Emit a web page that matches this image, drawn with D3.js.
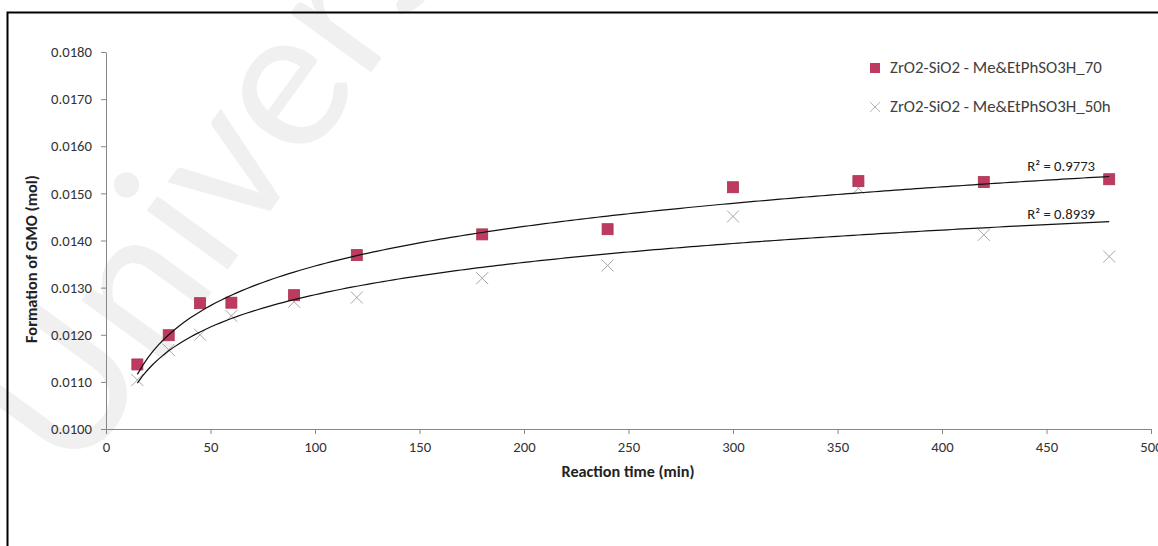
<!DOCTYPE html>
<html>
<head>
<meta charset="utf-8">
<script src="https://cdn.jsdelivr.net/npm/d3@7"></script>
<style>
  body { margin: 0; background: #fff; }
  svg text { font-family: Carlito, Lato, "Open Sans", sans-serif; }
</style>
</head>
<body>
<script>
// values
const times = [15, 30, 45, 60, 90, 120, 180, 240, 300, 360, 420, 480];
const gmo70 = [0.01137, 0.01199, 0.01267, 0.01268, 0.01284, 0.01369, 0.01413, 0.01424, 0.01513, 0.01526, 0.01524, 0.01530];
const gmo50h = [0.01104, 0.01168, 0.01200, 0.01240, 0.01270, 0.01279, 0.01320, 0.01347, 0.01451, 0.01511, 0.01412, 0.01366];
const seriesNames = ["ZrO2-SiO2 - Me&EtPhSO3H_70", "ZrO2-SiO2 - Me&EtPhSO3H_50h"];
const r2Labels = ["R\u00b2 = 0.9773", "R\u00b2 = 0.8939"];
const yTicks = [0.010, 0.011, 0.012, 0.013, 0.014, 0.015, 0.016, 0.017, 0.018];
const xTicks = [0, 50, 100, 150, 200, 250, 300, 350, 400, 450, 500];

const w = 1158;
const h = 546;

// scale a text's font so it is as wide as in the picture
function fitWidth(sel, target) {
    const node = sel.node();
    const size = parseFloat(sel.attr("font-size"));
    const len = node.getComputedTextLength();
    const s = size * target / len;
    sel.attr("font-size", s);
    return s;
}

const svg = d3.select("body")
    .append("svg")
        .attr("width", w)
        .attr("height", h)

// faint watermark behind the chart
svg.append("text")
    .attr("transform", "translate(75,480) rotate(-54)")
    .attr("font-size", 210)
    .attr("fill", "#f0f0f0")
    .text("University")

// outer frame (only left and top show in the crop)
svg.append("rect")
    .attr("x", 7.5)
    .attr("y", 12.5)
    .attr("width", 1300)
    .attr("height", 700)
    .attr("fill", "none")
    .attr("stroke", "#000")
    .attr("stroke-width", 2)

const x = d3.scaleLinear().domain([0, 500]).range([106, 1151]);
const y = d3.scaleLinear().domain([0.010, 0.018]).range([429, 52]);

// logarithmic trend line, least squares on ln(t) like Excel
function logFit(xs, ys) {
    const lx = xs.map(Math.log);
    const mx = d3.mean(lx), my = d3.mean(ys);
    let num = 0, den = 0;
    lx.forEach((v, i) => { num += (v - mx) * (ys[i] - my); den += (v - mx) * (v - mx); });
    const a = num / den;
    const b = my - a * mx;
    return t => a * Math.log(t) + b;
}

const yAxis = svg.append("g")
    .attr("transform", "translate(106,0)")
    .call(d3.axisLeft(y).tickValues(yTicks).tickFormat(d3.format(".4f")).tickSize(5).tickSizeOuter(0))
yAxis.select(".domain").attr("stroke", "#868686")
yAxis.selectAll(".tick line").attr("stroke", "#868686")
yAxis.selectAll(".tick text").attr("font-size", 12).attr("fill", "#333").attr("x", -14)
const tickSize = fitWidth(yAxis.select(".tick:last-of-type text"), 41);
yAxis.selectAll(".tick text").attr("font-size", tickSize)

const xAxis = svg.append("g")
    .attr("transform", "translate(0,429)")
    .call(d3.axisBottom(x).tickValues(xTicks).tickSize(5).tickSizeOuter(0))
xAxis.select(".domain").attr("stroke", "#868686")
xAxis.selectAll(".tick line").attr("stroke", "#868686")
xAxis.selectAll(".tick text").attr("font-size", tickSize).attr("fill", "#333").attr("y", 13)

fitWidth(svg.append("text")
    .attr("x", 628)
    .attr("y", 477)
    .attr("text-anchor", "middle")
    .attr("font-size", 12.5)
    .attr("font-weight", "bold")
    .attr("fill", "#222")
    .text("Reaction time (min)"), 133)

fitWidth(svg.append("text")
    .attr("transform", "translate(37,259) rotate(-90)")
    .attr("text-anchor", "middle")
    .attr("font-size", 12.5)
    .attr("font-weight", "bold")
    .attr("fill", "#222")
    .text("Formation of GMO (mol)"), 168)

// markers
const pts50 = times.map((t, i) => ({t: t, v: gmo50h[i]}));
const pts70 = times.map((t, i) => ({t: t, v: gmo70[i]}));

svg.append("g")
    .selectAll("path")
    .data(pts50)
    .enter()
    .append("path")
        .attr("d", d => {
            const cx = x(d.t), cy = y(d.v), s = 6;
            return `M${cx - s},${cy - s}L${cx + s},${cy + s}M${cx - s},${cy + s}L${cx + s},${cy - s}`;
        })
        .attr("stroke", "#a6a6a6")
        .attr("stroke-width", 1)

svg.append("g")
    .selectAll("rect")
    .data(pts70)
    .enter()
    .append("rect")
        .attr("x", d => x(d.t) - 5.5)
        .attr("y", d => y(d.v) - 5.5)
        .attr("width", 11)
        .attr("height", 11)
        .attr("fill", "#be3a60")
        .attr("stroke", "#a8324f")
        .attr("stroke-width", 0.8)

// trend lines
const fits = [logFit(times, gmo70), logFit(times, gmo50h)];
const tSpan = d3.range(15, 480.5, 2.5);
const line = d3.line().x(d => x(d[0])).y(d => y(d[1]));
fits.forEach((f, i) => {
    svg.append("path")
        .attr("d", line(tSpan.map(t => [t, f(t)])))
        .attr("fill", "none")
        .attr("stroke", "#111")
        .attr("stroke-width", 1.2)
    fitWidth(svg.append("text")
        .attr("x", x(457))
        .attr("y", y(f(457)) - (i === 0 ? 8 : 5))
        .attr("text-anchor", "middle")
        .attr("font-size", 12.5)
        .attr("fill", "#222")
        .text(r2Labels[i]), 68)
});

// legend
const legend = svg.append("g")
legend.append("rect")
    .attr("x", 870)
    .attr("y", 63)
    .attr("width", 10)
    .attr("height", 10)
    .attr("fill", "#be3a60")
legend.append("path")
    .attr("d", "M870,102L880,112M870,112L880,102")
    .attr("stroke", "#b5b5b5")
    .attr("stroke-width", 1)
let legSize = 14;
seriesNames.forEach((name, i) => {
    const t = legend.append("text")
        .attr("x", 890)
        .attr("y", 73 + i * 39)
        .attr("font-size", legSize)
        .attr("fill", "#404040")
        .text(name)
    if (i === 0) legSize = fitWidth(t, 212);
});
</script>
</body>
</html>
